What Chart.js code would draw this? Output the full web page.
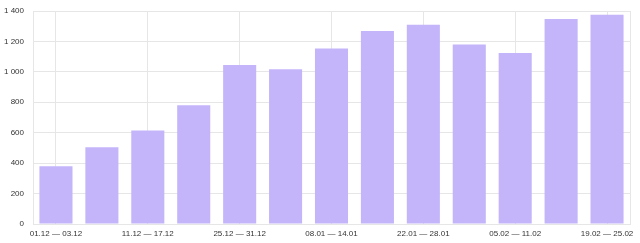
<!DOCTYPE html>
<html>
<head>
<meta charset="utf-8">
<script src="https://cdn.jsdelivr.net/npm/chart.js@4/dist/chart.umd.min.js"></script>
<style>
  html, body { margin: 0; padding: 0; background: #fff; }
  #wrap { width: 640px; height: 243px; }
</style>
</head>
<body>
<div id="wrap"><canvas id="chart"></canvas></div>
<script>
// weekly periods
const weeks = [
  '01.12 — 03.12', '04.12 — 10.12', '11.12 — 17.12', '18.12 — 24.12',
  '25.12 — 31.12', '01.01 — 07.01', '08.01 — 14.01', '15.01 — 21.01',
  '22.01 — 28.01', '29.01 — 04.02', '05.02 — 11.02', '12.02 — 18.02',
  '19.02 — 25.02'
];
const counts = [380, 505, 615, 780, 1045, 1017, 1153, 1269, 1310, 1179, 1124, 1348, 1376];
const yTicks = [0, 200, 400, 600, 800, 1000, 1200, 1400];

const gridColor = '#e6e6e6';
const textColor = '#333';

// right edge of the plot frame
const frame = {
  id: 'frame',
  afterDraw(chart) {
    const { ctx, chartArea: a } = chart;
    ctx.save();
    ctx.strokeStyle = gridColor;
    ctx.lineWidth = 1;
    ctx.beginPath();
    ctx.moveTo(Math.round(a.right) + 0.5, a.top);
    ctx.lineTo(Math.round(a.right) + 0.5, a.bottom);
    ctx.stroke();
    ctx.restore();
  }
};

new Chart(document.getElementById('chart'), {
  type: 'bar',
  data: {
    labels: weeks,
    datasets: [{
      data: counts,
      backgroundColor: '#c4b5fa',
      borderWidth: 0
    }]
  },
  options: {
    responsive: true,
    maintainAspectRatio: false,
    animation: false,
    layout: { padding: { top: 11, right: 10, left: 0, bottom: 0 } },
    plugins: { legend: { display: false }, tooltip: { enabled: false } },
    scales: {
      x: {
        grid: { color: gridColor, offset: false, drawTicks: false },
        border: { color: gridColor },
        ticks: {
          autoSkip: false,
          maxRotation: 0,
          padding: 5,
          color: textColor,
          font: { family: 'Liberation Sans, Arial, sans-serif', size: 8 },
          callback: (v, i) => (i % 2 === 0 ? weeks[i] : null)
        },
        afterFit: s => { s.height = 19; s.paddingLeft = 0; s.paddingRight = 0; }
      },
      y: {
        min: 0,
        max: 1400,
        grid: { color: gridColor, drawTicks: false },
        border: { color: gridColor },
        afterBuildTicks: s => { s.ticks = yTicks.map(v => ({ value: v })); },
        ticks: {
          padding: 9,
          color: textColor,
          font: { family: 'Liberation Sans, Arial, sans-serif', size: 8 },
          callback: v => String(v).replace(/\B(?=(\d{3})+(?!\d))/g, ' ')
        },
        afterFit: s => { s.width = 33; s.paddingTop = 0; s.paddingBottom = 0; }
      }
    }
  },
  plugins: [frame]
});
</script>
</body>
</html>
